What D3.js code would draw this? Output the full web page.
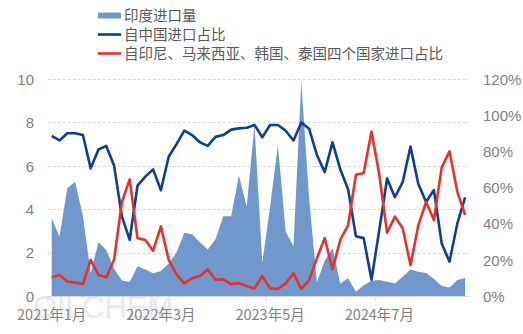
<!DOCTYPE html>
<html><head><meta charset="utf-8">
<script src="https://cdn.jsdelivr.net/npm/d3@7/dist/d3.min.js"></script>
<style>
html,body{margin:0;padding:0;background:#fff;}
svg{display:block;font-family:"Noto Sans CJK SC","Noto Sans",sans-serif;}
</style></head>
<body><svg id="c" width="523" height="334"></svg>
<script>
const startYear = 2021, startMonth = 1, monthCount = 54;
const tickLabels = ["2021年1月","2022年3月","2023年5月","2024年7月"];
const seriesNames = ["印度进口量","自中国进口占比","自印尼、马来西亚、韩国、泰国四个国家进口占比"];
const indiaImport = [3.58,2.73,4.96,5.27,3.7,1.05,2.48,2.12,1.25,0.72,0.64,1.37,1.22,1.05,1.15,1.5,2.0,2.92,2.84,2.48,2.14,2.62,3.67,3.67,5.55,4.12,7.88,1.54,4.12,6.96,2.96,2.3,9.9,4.5,0.62,1.62,2.2,0.58,0.82,0.2,0.5,0.7,0.74,0.66,0.58,0.89,1.22,1.12,1.06,0.78,0.46,0.39,0.74,0.83];
const chinaShare = [88.5,86,90,90,89,70.6,81,83,72,44,31,61,66,70,58.5,77,84,91.4,89,85,83,88,89,92,92.7,93,94.6,87.8,94.6,94.6,91.4,86,96,92.5,78,68.5,85,70,59,33,32,9,36.5,65,54.6,63,82.6,62,52,58.6,29,19,40,54.6];
const otherShare = [10.3,11.6,8,7.4,6.6,20,11.6,10.3,20,52,64.5,32,31,25,38.5,20,12,7,9.8,11,14.7,9,9.2,6.6,7,5.5,4.2,11,4.2,3.9,7,12.5,4,8.8,20.8,32,14.7,31,39,67,68,91,67,35,43.9,37.5,17,39,52,42,71,80,57.7,44.8];
const leftTicks = [0,2,4,6,8,10];
const rightTicks = [0,20,40,60,80,100,120];

const months = d3.range(monthCount).map(i => {
  const m = startMonth - 1 + i;
  return (startYear + Math.floor(m / 12)) + "年" + (m % 12 + 1) + "月";
});

const svg = d3.select("#c");
const L = 47.8, R = 469, T = 79, B = 296;
const x = d3.scaleBand().domain(months).range([L, R]);
const cx = d => x(d) + x.bandwidth() / 2;
const yL = d3.scaleLinear().domain([0, 10]).range([B, T]);
const yR = d3.scaleLinear().domain([0, 120]).range([B, T]);

// watermark
svg.append("text").attr("x", 33).attr("y", 318).text("OILCHEM")
  .attr("font-family", "Liberation Sans, Arial, sans-serif").attr("font-size", 31)
  .attr("fill", "#d8d8d8").attr("opacity", 0.55).attr("textLength", 140);

// grid
svg.append("g").selectAll("line").data(leftTicks.filter(d => d > 0)).join("line")
  .attr("x1", L).attr("x2", R).attr("y1", d => Math.round(yL(d)) + 0.5).attr("y2", d => Math.round(yL(d)) + 0.5)
  .attr("stroke", "#d9d9d9").attr("stroke-dasharray", "3,2").attr("stroke-width", 1);

// area
const area = d3.area().x((d, i) => cx(months[i])).y0(B).y1(d => yL(d));
svg.append("path").datum(indiaImport).attr("d", area).attr("fill", "#7198cd");

// axis line
svg.append("line").attr("x1", L).attr("x2", R).attr("y1", B + 0.5).attr("y2", B + 0.5)
  .attr("stroke", "#d9d9d9").attr("stroke-width", 1);

// lines
const lineR = d3.line().x((d, i) => cx(months[i])).y(d => yR(d)).curve(d3.curveLinear);
svg.append("path").datum(chinaShare).attr("d", lineR).attr("fill", "none")
  .attr("stroke", "#0f3e92").attr("stroke-width", 2.6).attr("stroke-linejoin", "round");
svg.append("path").datum(otherShare).attr("d", lineR).attr("fill", "none")
  .attr("stroke", "#e5322b").attr("stroke-width", 2.6).attr("stroke-linejoin", "round");

// x axis
const xAxis = d3.axisBottom(x).tickValues(tickLabels).tickSize(0).tickPadding(0);
const gx = svg.append("g").attr("transform", `translate(0,${B})`).call(xAxis);
gx.select(".domain").remove();
gx.selectAll("text").attr("y", 24).attr("dy", 0).attr("font-size", 14.5).attr("fill", "#7f7f7f")
  .attr("font-family", "Noto Sans CJK SC, sans-serif");
gx.selectAll(".tick").each(function(d) {
  d3.select(this).append("line").attr("x1", -x.bandwidth()/2).attr("x2", -x.bandwidth()/2)
    .attr("y1", 0).attr("y2", 5).attr("stroke", "#d9d9d9");
});

// left axis
const gl = svg.append("g").attr("transform", `translate(34,0)`)
  .call(d3.axisLeft(yL).tickValues(leftTicks).tickSize(0).tickPadding(0));
gl.select(".domain").remove();
gl.selectAll("text").attr("font-size", 15).attr("fill", "#7f7f7f").attr("dy", "0.35em")
  .attr("font-family", "Liberation Sans, Arial, sans-serif");

// right axis
const gr = svg.append("g").attr("transform", `translate(483,0)`)
  .call(d3.axisRight(yR).tickValues(rightTicks).tickSize(0).tickPadding(0).tickFormat(d => d + "%"));
gr.select(".domain").remove();
gr.selectAll("text").attr("font-size", 15).attr("fill", "#7f7f7f").attr("dy", "0.35em")
  .attr("font-family", "Liberation Sans, Arial, sans-serif");

// legend
const lg = svg.append("g");
const rows = [15.5, 34.5, 53.5];
lg.append("rect").attr("x", 98).attr("y", rows[0] - 3).attr("width", 23).attr("height", 6).attr("fill", "#7198cd");
lg.append("line").attr("x1", 98).attr("x2", 121).attr("y1", rows[1]).attr("y2", rows[1]).attr("stroke", "#0f3e92").attr("stroke-width", 2.6);
lg.append("line").attr("x1", 98).attr("x2", 121).attr("y1", rows[2]).attr("y2", rows[2]).attr("stroke", "#e5322b").attr("stroke-width", 2.6);
lg.selectAll("text").data(seriesNames).join("text")
  .attr("x", 124).attr("y", (d, i) => rows[i]).attr("dy", "0.35em")
  .attr("font-size", 14.5).attr("fill", "#595959").text(d => d);
</script></body></html>
